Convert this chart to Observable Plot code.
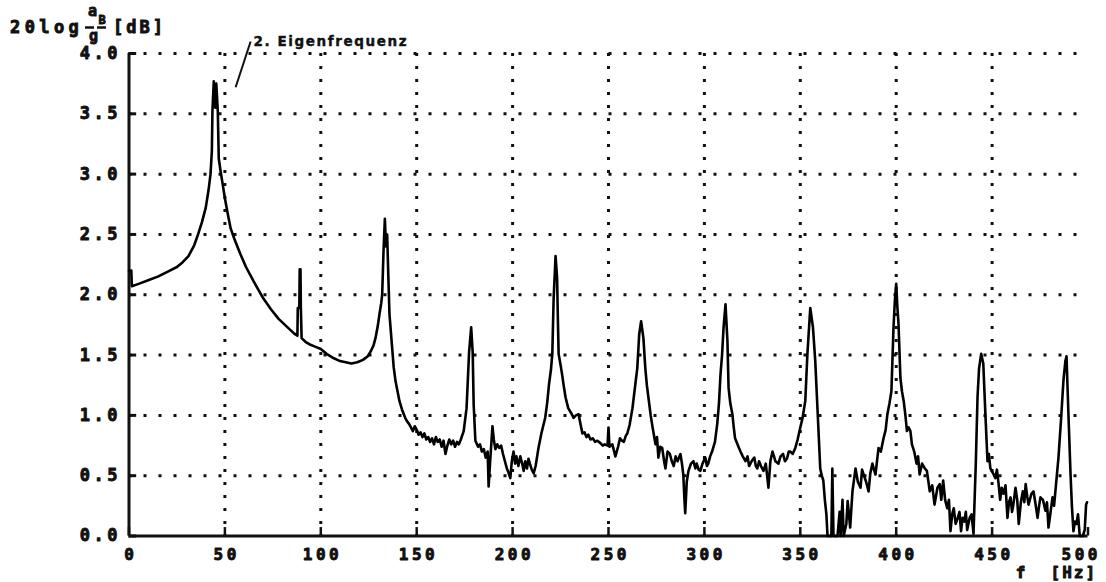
<!DOCTYPE html>
<html><head><meta charset="utf-8">
<script src="https://cdn.jsdelivr.net/npm/d3@7"></script>
<script src="https://cdn.jsdelivr.net/npm/@observablehq/plot@0.6"></script>
<style>
html,body{margin:0;padding:0;background:#fff;}
#chart{width:1106px;height:582px;}
#chart svg text{letter-spacing:3.5px;}
</style></head><body><div id="chart"></div>
<script>
// [frequency Hz, level 20log(aB/g) dB]
const spectrum = [
[0,2.20],[1.2,2.20],[1.5,2.07],[5,2.09],[10,2.12],[15,2.15],[20,2.19],[25,2.23],[28,2.27],[31,2.32],[34,2.41],[36,2.50],[38,2.60],[40,2.72],[41.5,2.87],[42.5,3.00],[43.2,3.19],[43.5,3.52],[44.2,3.77],[45,3.55],[45.5,3.75],[46.3,3.52],[46.8,3.13],[47.7,3.03],[48.5,2.95],[50,2.80],[51.5,2.67],[53,2.55],[55,2.46],[58,2.34],[61,2.23],[65,2.11],[70,1.97],[74,1.88],[78,1.80],[82,1.74],[86,1.68],[87.8,1.66],[88,1.89],[88.8,1.89],[89,2.21],[89.4,2.21],[89.6,1.89],[90,1.64],[92,1.61],[94,1.59],[97,1.57],[100,1.55],[103,1.51],[106,1.48],[110,1.45],[113,1.44],[116,1.43],[119,1.44],[122,1.46],[124.5,1.49],[126,1.53],[127.5,1.58],[128.5,1.64],[129.7,1.74],[130.6,1.84],[131.5,1.93],[132,2.00],[132.7,2.36],[133.4,2.63],[134,2.40],[134.6,2.50],[135.2,2.16],[135.8,1.84],[136.9,1.62],[138,1.40],[139,1.28],[140,1.20],[141,1.12],[142.5,1.04],[144,0.98],[145,0.95],[146,0.93],[147,0.90],[148,0.87],[149,0.91],[150,0.88],[151,0.84],[152,0.86],[153,0.82],[154,0.85],[155,0.80],[156,0.82],[157,0.78],[158,0.81],[159,0.76],[160,0.82],[161,0.78],[162,0.80],[163,0.74],[164,0.79],[165,0.68],[166,0.75],[167,0.80],[168,0.76],[169,0.79],[170,0.74],[171,0.78],[172,0.76],[173,0.80],[174.5,0.87],[176,1.06],[177.3,1.52],[178.4,1.73],[179.2,1.52],[179.7,1.09],[180.6,0.79],[182,0.74],[183,0.76],[184,0.70],[185,0.72],[186,0.65],[187,0.70],[187.5,0.41],[188.3,0.62],[189.5,0.91],[190.2,0.80],[191,0.72],[192,0.76],[193,0.73],[194,0.75],[195,0.68],[196,0.62],[197,0.56],[198,0.52],[198.8,0.48],[199.6,0.62],[200.5,0.70],[201.3,0.60],[202,0.66],[203,0.58],[204,0.66],[205,0.60],[205.8,0.54],[206.6,0.62],[207.5,0.56],[208.3,0.64],[209,0.60],[210,0.55],[211,0.52],[212,0.58],[213.5,0.73],[215,0.85],[217,0.98],[218,1.10],[219,1.26],[220,1.38],[220.7,1.51],[221.4,1.97],[222.4,2.32],[223.2,2.14],[223.6,1.80],[224,1.51],[225,1.42],[225.8,1.34],[226.7,1.24],[227.6,1.15],[229,1.06],[230.5,1.02],[231.8,0.98],[233,1.00],[234.4,1.01],[235.5,0.92],[236.4,0.85],[237.5,0.86],[238.5,0.82],[239.5,0.84],[240.6,0.80],[241.8,0.81],[243,0.78],[244.2,0.79],[245.8,0.77],[247,0.75],[248,0.76],[249.5,0.75],[250,0.90],[250.5,0.74],[252,0.76],[253.6,0.66],[255,0.74],[256,0.81],[257,0.79],[258,0.78],[259,0.83],[259.8,0.85],[261,0.92],[262.5,1.06],[264,1.26],[265,1.39],[266,1.67],[267,1.78],[268.2,1.64],[269.2,1.39],[270,1.25],[270.8,1.15],[272,1.00],[273,0.90],[274.5,0.76],[275.3,0.82],[276,0.65],[277,0.74],[278,0.73],[279,0.62],[279.7,0.56],[280.8,0.70],[282,0.68],[283,0.62],[284,0.58],[285,0.66],[286,0.62],[287.5,0.68],[288.3,0.60],[289,0.51],[289.6,0.30],[290,0.19],[290.8,0.45],[291.7,0.54],[293,0.60],[294.3,0.62],[295.3,0.56],[296,0.60],[297,0.55],[297.9,0.54],[299,0.60],[300.5,0.65],[301.3,0.58],[302,0.60],[303,0.66],[304,0.70],[305.5,0.78],[306.7,0.93],[307.6,1.10],[308.4,1.34],[309.2,1.50],[310,1.73],[311,1.92],[312,1.62],[312.6,1.23],[313.5,1.10],[314.6,1.01],[315.3,0.90],[316,0.81],[317.5,0.75],[318.8,0.70],[320,0.66],[321.4,0.62],[322.5,0.66],[323.3,0.58],[324,0.60],[325,0.63],[326,0.65],[326.8,0.58],[327.6,0.56],[328.5,0.62],[329.5,0.58],[330.8,0.54],[332,0.60],[333.4,0.40],[334.4,0.62],[335.5,0.70],[336.3,0.66],[337,0.62],[338.6,0.60],[339.7,0.66],[341,0.68],[342,0.62],[343,0.64],[344,0.70],[344.8,0.70],[346,0.68],[347.4,0.73],[348.6,0.80],[350,0.90],[351.2,0.98],[352.6,1.12],[353.7,1.51],[355.2,1.89],[356.6,1.73],[357.8,1.45],[359,1.04],[360.4,0.56],[361.2,0.50],[362,0.46],[362.8,0.30],[363.6,0.18],[364.2,0],[366.2,0],[366.7,0.56],[367.3,0],[369.4,0],[370.5,0.20],[371,0],[372,0.30],[372.6,0],[374,0.10],[374.7,0.29],[376,0.07],[377.2,0.37],[378.8,0.56],[380,0.45],[381.4,0.40],[382.2,0.55],[383,0.51],[384.3,0.45],[385.6,0.37],[386.5,0.52],[387.6,0.60],[388.4,0.55],[389.2,0.51],[390,0.62],[390.8,0.73],[392,0.70],[393.4,0.81],[394.5,0.88],[395.4,1.01],[396.5,1.10],[397.5,1.20],[398.6,1.73],[399.3,1.95],[400,2.09],[400.6,1.90],[401.2,1.76],[402.2,1.31],[403,1.20],[403.9,1.12],[404.8,1.00],[405.6,0.87],[406.5,0.90],[407.4,0.87],[408.2,0.76],[409.4,0.70],[410.6,0.60],[411.4,0.66],[412.2,0.51],[413.5,0.60],[414.9,0.56],[416,0.54],[416.8,0.45],[417.5,0.37],[418.8,0.42],[420,0.26],[421.5,0.40],[422.7,0.43],[423.5,0.30],[424.5,0.46],[425.5,0.30],[426.6,0.23],[427.5,0.30],[428.3,0.04],[429.2,0.18],[430,0.23],[431,0.10],[432.1,0.15],[433,0.20],[433.8,0.04],[434.6,0.15],[435.5,0.12],[436.3,0.20],[437,0.05],[438.3,0.15],[439.3,0.18],[440.3,0.02],[441.5,0.60],[442.4,1.15],[443.2,1.39],[444.3,1.51],[445.4,1.43],[446.5,1.01],[447.6,0.62],[448.3,0.68],[449.1,0.56],[450.5,0.52],[451.7,0.48],[452.5,0.55],[453.4,0.43],[454.2,0.30],[455,0.40],[456,0.35],[457,0.42],[458,0.15],[458.8,0.28],[459.6,0.32],[460.4,0.20],[461,0.25],[462.2,0.40],[463.1,0.30],[463.9,0.10],[465,0.28],[466,0.37],[466.8,0.28],[467.5,0.43],[468.3,0.33],[469,0.26],[470.5,0.35],[471.6,0.37],[472.5,0.28],[473.7,0.15],[474.5,0.25],[475.2,0.32],[476.5,0.30],[477.8,0.21],[478.6,0.28],[479.4,0.07],[480.5,0.20],[481.5,0.32],[482.3,0.25],[483,0.37],[484.6,0.65],[486,0.98],[487.2,1.29],[488.2,1.45],[488.8,1.49],[489.8,1.01],[490.9,0.51],[491.6,0.25],[492.4,0.04],[493.2,0.12],[494,0.10],[494.8,0.18],[495.7,0],[497.3,0],[498.3,0.05],[499,0.26],[499.5,0.28]
];
const xTicks = [0,50,100,150,200,250,300,350,400,450,500];
const xTickLabels = ["0","50","100","150","200","250","300","350","400","450","500"];
const yTicks = [0,0.5,1,1.5,2,2.5,3,3.5,4];
const yTickLabels = ["0.0","0.5","1.0","1.5","2.0","2.5","3.0","3.5","4.0"];
const annotationText = ["2. Eigenfrequenz"];
const annotationLine = [{x1: 63.4, y1: 4.1, x2: 55.6, y2: 3.72}];
const xUnit = ["f", "[Hz]"];

const data = spectrum.map(([f, v]) => ({f, v}));
const mono = "'DejaVu Sans Mono', monospace";
const ink = "#111";
const LS = 3.5;
const bold = {fontWeight: "bold", fill: ink, stroke: ink, strokeWidth: 0.9};

const lastX = xTicks.length - 1;
const plot = Plot.plot({
  width: 1106, height: 582,
  marginLeft: 128.5, marginRight: 18.5, marginTop: 53, marginBottom: 46.5,
  x: {domain: [0, 500], axis: null},
  y: {domain: [0, 4], axis: null},
  style: {background: "#fff", fontFamily: mono, color: ink},
  marks: [
    Plot.ruleY(yTicks.slice(1), {stroke: ink, strokeWidth: 3, strokeDasharray: "3,12"}),
    Plot.ruleX(xTicks.slice(1, -1), {stroke: ink, strokeWidth: 3, strokeDasharray: "3,10"}),
    Plot.ruleY(yTicks.map(t => ({t, a: 0, b: 4})), {y: "t", x1: "a", x2: "b", stroke: ink, strokeWidth: 3}),
    Plot.ruleX(xTicks.map(t => ({t, a: 0, b: 0.07})), {x: "t", y1: "a", y2: "b", stroke: ink, strokeWidth: 2.5}),
    Plot.ruleX([0], {stroke: ink, strokeWidth: 3}),
    Plot.ruleY([0], {stroke: ink, strokeWidth: 3}),
    Plot.line(data, {x: "f", y: "v", stroke: "#000", strokeWidth: 2.6}),
    Plot.link(annotationLine, {x1: "x1", y1: "y1", x2: "x2", y2: "y2", stroke: ink, strokeWidth: 2}),
    Plot.text(yTicks, {x: () => 0, y: d => d, text: (d, i) => yTickLabels[i], textAnchor: "end", lineAnchor: "middle", dx: -11.5 + LS, fontSize: 17, ...bold}),
    Plot.text(xTicks.slice(0, lastX), {x: d => d, y: () => 0, text: (d, i) => xTickLabels[i], textAnchor: "middle", lineAnchor: "middle", dx: LS / 2, dy: 18.5, fontSize: 16, ...bold}),
    Plot.text(xTicks.slice(lastX), {x: d => d, y: () => 0, text: () => xTickLabels[lastX], textAnchor: "end", lineAnchor: "middle", dx: 9.5 + LS, dy: 18.5, fontSize: 16, ...bold}),
    Plot.text(annotationText, {frameAnchor: "top-left", textAnchor: "start", lineAnchor: "middle", dx: 124.5, dy: -11.5, fontSize: 13.5, fontFamily: "'DejaVu Sans', sans-serif", ...bold, strokeWidth: 0.4}),
    Plot.text(xUnit.slice(0, 1), {frameAnchor: "bottom-right", textAnchor: "middle", lineAnchor: "middle", dx: -67.5 + LS / 2, dy: 37, fontSize: 16, ...bold}),
    Plot.text(xUnit.slice(1), {frameAnchor: "bottom-right", textAnchor: "start", lineAnchor: "middle", dx: -37.5, dy: 37, fontSize: 16, ...bold})
  ]
});
document.getElementById("chart").appendChild(plot);
const svg = d3.select(plot);
svg.selectAll("text").filter(function() { return this.textContent === annotationText[0]; }).style("letter-spacing", "1.6px");
svg.selectAll("text").filter(function() { return this.textContent === xUnit[1]; }).style("letter-spacing", "2px");

// y-axis title: 20log (aB / g) [dB], one text element with positioned parts
const title = svg.append("text")
  .attr("text-anchor", "start")
  .attr("font-family", mono).attr("font-weight", "bold")
  .attr("fill", ink).attr("stroke", ink).attr("stroke-width", 0.9)
  .attr("font-size", 17);
title.append("tspan").attr("x", 10).attr("y", 33).style("letter-spacing", "4.4px").text("20log");
title.append("tspan").attr("x", 88).attr("y", 16).attr("font-size", 15).style("letter-spacing", "0px").text("a");
title.append("tspan").attr("x", 98.5).attr("y", 24).attr("font-size", 12).style("letter-spacing", "0px").text("B");
title.append("tspan").attr("x", 89).attr("y", 41).attr("font-size", 15).style("letter-spacing", "0px").text("g");
title.append("tspan").attr("x", 113).attr("y", 33).style("letter-spacing", "3px").text("[dB]");
// fraction bar
svg.append("line").attr("x1", 85).attr("x2", 107).attr("y1", 27.5).attr("y2", 27.5)
  .attr("stroke", ink).attr("stroke-width", 2.5).attr("stroke-dasharray", "9,3");
</script></body></html>
